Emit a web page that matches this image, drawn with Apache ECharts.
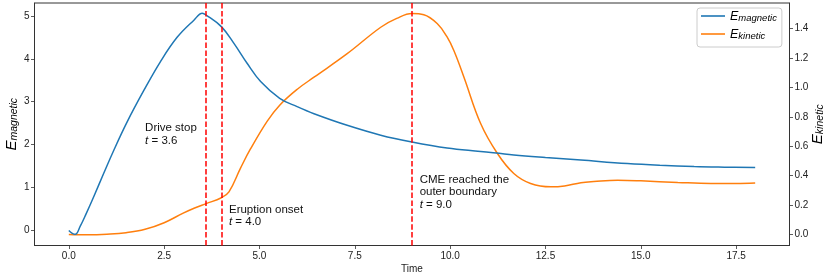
<!DOCTYPE html>
<html><head><meta charset="utf-8">
<script src="https://cdn.jsdelivr.net/npm/echarts@6/dist/echarts.min.js"></script>
<style>html,body{margin:0;padding:0;background:#fff}#c{width:830px;height:277px}</style>
</head><body><div id="c"></div>
<script>
// ---- data ----
const timeMag = [0, 0.08, 0.17, 0.3, 0.45, 0.65, 0.91, 1.18, 1.53, 1.96, 2.4, 2.84, 3.28, 3.5, 3.6, 4.0, 4.33, 4.68, 5.03, 5.53, 6.0, 6.43, 7.3, 8.18, 9.0, 9.92, 10.8, 11.67, 12.5, 13.43, 14.65, 15.5, 16.4, 17.2, 18.0];
const eMag    = [0, -0.06, -0.09, 0.1, 0.38, 0.78, 1.32, 1.87, 2.53, 3.25, 3.93, 4.5, 4.9, 5.06, 5.02, 4.75, 4.36, 3.89, 3.47, 3.08, 2.88, 2.72, 2.45, 2.22, 2.06, 1.92, 1.84, 1.76, 1.70, 1.64, 1.56, 1.52, 1.49, 1.475, 1.465];
const timeKin = [0, 0.5, 1.0, 1.5, 2.0, 2.5, 3.0, 3.3, 3.6, 4.0, 4.2, 4.5, 4.76, 5.2, 5.53, 6.0, 6.43, 7.3, 8.18, 8.6, 9.0, 9.31, 9.66, 9.92, 10.1, 10.36, 10.8, 11.24, 11.67, 12.11, 12.64, 13.0, 13.43, 13.77, 14.39, 15.0, 15.97, 16.84, 17.5, 18.0];
const eKin    = [0, -0.002, 0.002, 0.012, 0.035, 0.08, 0.145, 0.18, 0.21, 0.25, 0.29, 0.45, 0.58, 0.77, 0.88, 0.99, 1.07, 1.23, 1.41, 1.47, 1.503, 1.495, 1.435, 1.344, 1.25, 1.072, 0.755, 0.551, 0.415, 0.347, 0.324, 0.33, 0.352, 0.36, 0.369, 0.365, 0.354, 0.347, 0.347, 0.35];
const xTicks = [0, 2.5, 5, 7.5, 10, 12.5, 15, 17.5];
const yLeftTicks = [0, 1, 2, 3, 4, 5];
const yRightTicks = [0, 0.2, 0.4, 0.6, 0.8, 1.0, 1.2, 1.4];
const eventTimes = [3.6, 4.0, 9.0];
const noteLines = [['Drive stop', '{i|t} = 3.6'], ['Eruption onset', '{i|t} = 4.0'], ['CME reached the', 'outer boundary', '{i|t} = 9.0']];
const noteT = [2.0, 4.2, 9.2];
const noteE = [2.0, 0.1, 0.5];
const seriesNames = ['Emagnetic', 'Ekinetic'];

const FONT = "'Liberation Sans', Arial, sans-serif";
const AX = '#333';
const TXT = '#222';

const chart = echarts.init(document.getElementById('c'), null, {renderer: 'canvas'});

function nameRich(F, f, L, l) {
  return {
    E: {fontSize: F, fontStyle: 'italic', fontFamily: FONT, color: '#000', lineHeight: L, verticalAlign: 'bottom'},
    s: {fontSize: f, fontStyle: 'italic', fontFamily: FONT, color: '#000', lineHeight: l, verticalAlign: 'bottom'}
  };
}

const option = {
  animation: false,
  backgroundColor: '#fff',
  grid: {left: 34.5, right: 40.5, top: 3, bottom: 31.5, containLabel: false, outerBoundsMode: 'none',
         show: true, borderColor: AX, borderWidth: 1, backgroundColor: 'transparent'},
  legend: {
    data: seriesNames,
    orient: 'vertical', left: 697, top: 8,
    icon: 'rect', itemWidth: 24, itemHeight: 1.6, itemGap: 5,
    padding: [2, 5, 6, 4],
    backgroundColor: 'rgba(255,255,255,0.85)', borderColor: '#cccccc', borderWidth: 1, borderRadius: 3,
    formatter: n => '{E|E}{s|' + n.slice(1) + '}',
    textStyle: {rich: nameRich(12.5, 9.5, 14, 8)}
  },
  xAxis: {
    type: 'value', min: -0.9, max: 18.9,
    splitLine: {show: false},
    axisLine: {onZero: false, lineStyle: {color: AX, width: 1}},
    axisTick: {customValues: xTicks, length: 3.5, lineStyle: {color: AX, width: 0.8}},
    axisLabel: {customValues: xTicks, formatter: v => v.toFixed(1), fontSize: 10, color: TXT, margin: 6, fontFamily: FONT},
    name: 'Time', nameLocation: 'middle', nameGap: 19, nameMoveOverlap: false,
    nameTextStyle: {fontSize: 10, color: TXT, fontFamily: FONT}
  },
  yAxis: [{
    type: 'value', position: 'left', min: -0.35, max: 5.3,
    splitLine: {show: false},
    axisLine: {show: true, onZero: false, lineStyle: {color: AX, width: 1}},
    axisTick: {show: true, customValues: yLeftTicks, length: 3.5, lineStyle: {color: AX, width: 0.8}},
    axisLabel: {customValues: yLeftTicks, formatter: v => String(v), fontSize: 10, color: TXT, margin: 5, fontFamily: FONT},
    name: '{E|E}{s|magnetic}', nameLocation: 'middle', nameRotate: 90, nameGap: 15, nameMoveOverlap: false,
    nameTextStyle: {rich: nameRich(15, 10.5, 17, 8)}
  }, {
    type: 'value', position: 'right', min: -0.075, max: 1.575,
    splitLine: {show: false},
    axisLine: {show: true, onZero: false, lineStyle: {color: AX, width: 1}},
    axisTick: {show: true, customValues: yRightTicks, length: 3.5, lineStyle: {color: AX, width: 0.8}},
    axisLabel: {customValues: yRightTicks, formatter: v => v.toFixed(1), fontSize: 10, color: TXT, margin: 5, fontFamily: FONT},
    name: '{E|E}{s|kinetic}', nameLocation: 'middle', nameRotate: 90, nameGap: 19, nameMoveOverlap: false,
    nameTextStyle: {rich: nameRich(15, 10.5, 17, 8)}
  }],
  series: [{
    name: seriesNames[0], type: 'line', yAxisIndex: 0,
    data: timeMag.map((t, i) => [t, eMag[i]]),
    smooth: 0.4, showSymbol: false,
    lineStyle: {color: '#1f77b4', width: 1.5}, itemStyle: {color: '#1f77b4'},
    z: 3,
    markLine: {
      silent: true, symbol: 'none', label: {show: false},
      lineStyle: {color: '#ff0000', type: [5.5, 2.4], width: 1.5},
      data: eventTimes.map(t => ({xAxis: t}))
    }
  }, {
    name: seriesNames[1], type: 'line', yAxisIndex: 1,
    data: timeKin.map((t, i) => [t, eKin[i]]),
    smooth: 0.4, showSymbol: false,
    lineStyle: {color: '#ff7f0e', width: 1.5}, itemStyle: {color: '#ff7f0e'},
    z: 2
  }]
};
chart.setOption(option);

const graphics = noteLines.map((lines, i) => {
  const p = chart.convertToPixel({xAxisIndex: 0, yAxisIndex: 0}, [noteT[i], noteE[i]]);
  return {
    type: 'text', x: p[0], y: p[1] + 2, z: 10, silent: true,
    style: {
      text: lines.join('\n'), fill: '#111', fontSize: 11.5, fontFamily: FONT, lineHeight: 12.5,
      align: 'left', verticalAlign: 'bottom',
      rich: {i: {fontStyle: 'italic', fontSize: 11.5, fontFamily: FONT, lineHeight: 12.5, fill: '#111'}}
    }
  };
});
chart.setOption({graphic: graphics});
</script>
</body></html>
